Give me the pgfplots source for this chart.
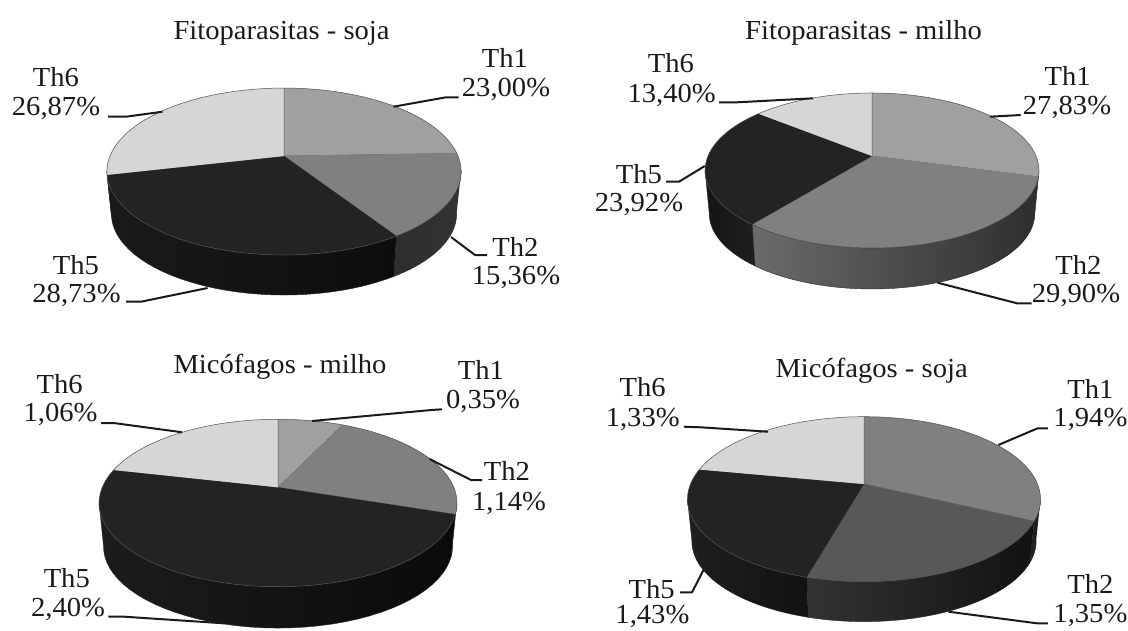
\documentclass[border=0pt]{standalone}
\usepackage{pgfplots}
\usepackage{fontspec}
\pgfplotsset{compat=1.18}
\setmainfont[FakeStretch=1.04]{Liberation Serif}

\definecolor{edge}{HTML}{505050}
\definecolor{inkc}{HTML}{1A1A1A}
\definecolor{gA}{HTML}{A0A0A0}
\definecolor{gB}{HTML}{808080}
\definecolor{gC}{HTML}{585858}
\definecolor{gE}{HTML}{232323}
\definecolor{gF}{HTML}{D6D6D6}

% Side shading of the slices: left colour to right colour
\tikzset{
  wsa1/.style={left color=black!85,right color=black!85},
  wsa2/.style={left color=black!82,right color=black!80},
  wsa5/.style={left color=black!90,right color=black!95},
  wsb1/.style={left color=black!75,right color=black!75},
  wsb2/.style={left color=black!58,right color=black!82},
  wsb5/.style={left color=black!92,right color=black!88},
  wsc1/.style={left color=black!85,right color=black!85},
  wsc2/.style={left color=black!92,right color=black!92},
  wsc5/.style={left color=black!89,right color=black!96},
  wsd1/.style={left color=black!85,right color=black!90},
  wsd2/.style={left color=black!80,right color=black!93},
  wsd5/.style={left color=black!88,right color=black!93},
}

% Angle along the rim, clockwise from the back of the disc
\newcommand\TopAngle[2]{(#1+(#2-#1)*min(\s,1))}
\newcommand\WallAngle[2]{(#1+(#2-#1)*(\s<=1?\s:(\s<1.1?1:2.1-\s)))}

% Top face of a slice: apex x, apex y, Sx, Sy, k, start, end, colour
\newcommand\TopFace[8]{%
  \addplot[fill=#8,draw=edge,line width=0.5pt,variable=\s,domain=0:1.05,samples=43]
    ({#1+(\s>1.01?0:1)*#3*sin(\TopAngle{#6}{#7})/(1+#5*cos(\TopAngle{#6}{#7}))},
     {#2-(\s>1.01?0:1)*#4*cos(\TopAngle{#6}{#7})/(1+#5*cos(\TopAngle{#6}{#7}))});
}
% Wall of a slice: apex x, apex y, Sx, Sy, k, start, end, depth, style
\newcommand\WallPlot[9]{%
  \addplot[#9,draw=black!85,line width=0.4pt,variable=\s,domain=0:2.1,samples=85]
    ({#1+(1-0.025*(\s>1.01?1:0))*#3*sin(\WallAngle{#6}{#7})/(1+#5*cos(\WallAngle{#6}{#7}))},
     {#2+(\s>1.01?1:0)*#8-(1-0.025*(\s>1.01?1:0))*#4*cos(\WallAngle{#6}{#7})/(1+#5*cos(\WallAngle{#6}{#7}))});
}
% Draws a wall only for the part of the rim facing the viewer
\newcommand\Wall[3]{%
  \pgfmathsetmacro\lo{max(#1,100.5)}%
  \pgfmathsetmacro\hi{min(#2,259.5)}%
  \pgfmathparse{\hi>\lo?1:0}%
  \ifdim\pgfmathresult pt>0.5pt
    \edef\next{\noexpand\WallPlot{\gx}{\gy}{\gsx}{\gsy}{\gk}{\lo}{\hi}{\gd}{#3}}\next
  \fi
}
\newcommand\Top[3]{%
  \edef\next{\noexpand\TopFace{\gx}{\gy}{\gsx}{\gsy}{\gk}{#1}{#2}{#3}}\next
}
\newcommand\PieGeom[6]{\def\gx{#1}\def\gy{#2}\def\gsx{#3}\def\gsy{#4}\def\gk{#5}\def\gd{#6}}
% Pie id, colours of Th1 and Th2, then the values of Th1, Th2, Th5, Th6
\newcommand\PieData[7]{%
  \pgfmathsetmacro\tot{#4+#5+#6+#7}%
  \pgfmathsetmacro\tA{#4/\tot*360}%
  \pgfmathsetmacro\tB{\tA+#5/\tot*360}%
  \pgfmathsetmacro\tC{\tB+#6/\tot*360}%
  \Wall{0}{\tA}{ws#11}%
  \Wall{\tA}{\tB}{ws#12}%
  \Wall{\tB}{\tC}{ws#15}%
  \Wall{\tC}{360}{ws#15}%
  \Top{0}{\tA}{#2}%
  \Top{\tA}{\tB}{#3}%
  \Top{\tB}{\tC}{gE}%
  \Top{\tC}{360}{gF}%
}
\newcommand\Lead[1]{\addplot[inkc,line width=2pt,line join=round] coordinates {#1};}
\newcommand\Tx[3]{\node[inkc,inner sep=0pt,font=\fontsize{27.5}{31}\selectfont] at (axis cs:#1,#2) {#3};}

\begin{document}
\begin{tikzpicture}
\begin{axis}[name=ax,scale only axis,width=1128pt,height=630pt,
  xmin=0,xmax=1128,ymin=0,ymax=630,y dir=reverse,hide axis]

% Fitoparasitas - soja
\PieGeom{284}{156}{174}{80.6}{0.186}{42.5}
\PieData{a}{gA}{gB}{23.00}{15.36}{28.73}{26.87}
\Lead{(393.5,106.7) (446,97.3) (458.5,97.3)}
\Lead{(108,116.7) (126,116.7) (162.5,111.7)}
\Lead{(451,237) (475,255) (487,255)}
\Lead{(126,301.7) (141,301.7) (207.6,288)}
\Tx{281.6}{33}{Fitoparasitas - soja}
\Tx{505}{58}{Th1}\Tx{506}{89}{23,00\%}
\Tx{56}{77}{Th6}\Tx{56}{108}{26,87\%}
\Tx{515.5}{247}{Th2}\Tx{516}{277}{15,36\%}
\Tx{76}{265}{Th5}\Tx{76.5}{295}{28,73\%}

% Fitoparasitas - milho
\PieGeom{872}{156}{164}{74.8}{0.187}{43.3}
\PieData{b}{gA}{gB}{27.83}{29.90}{23.92}{13.40}
\Lead{(990,116.7) (1020.7,115)}
\Lead{(719.2,102.3) (737.3,102.3) (813,98.3)}
\Lead{(666,181.7) (679,181.7) (704.8,166)}
\Lead{(937.6,282.7) (1017,303.3) (1031.5,303.3)}
\Tx{863.6}{33}{Fitoparasitas - milho}
\Tx{1067.6}{76}{Th1}\Tx{1067}{107}{27,83\%}
\Tx{671}{63.3}{Th6}\Tx{671.6}{95}{13,40\%}
\Tx{639}{174}{Th5}\Tx{639}{204}{23,92\%}
\Tx{1078.4}{265}{Th2}\Tx{1076}{295}{29,90\%}

% Micófagos - milho
\PieGeom{278}{487.3}{175.8}{80.8}{0.1876}{43.8}
\PieData{c}{gA}{gB}{0.35}{1.14}{2.40}{1.06}
\Lead{(312,421) (431.4,410) (442,409.3)}
\Lead{(101,423) (113.7,423) (182.3,432.3)}
\Lead{(429.6,459) (471,480) (482,480)}
\Lead{(108.3,616.7) (124.5,616.7) (223.8,623.3)}
\Tx{280}{366.5}{Micófagos - milho}
\Tx{481}{370}{Th1}\Tx{483}{401}{0,35\%}
\Tx{59.6}{384.3}{Th6}\Tx{60.6}{414}{1,06\%}
\Tx{507}{471}{Th2}\Tx{509}{503.3}{1,14\%}
\Tx{66.8}{578.3}{Th5}\Tx{68}{609}{2,40\%}

% Micófagos - soja
\PieGeom{864}{484}{173.5}{79.7}{0.184}{42.4}
\PieData{d}{gB}{gC}{1.94}{1.35}{1.43}{1.33}
\Lead{(998.3,445) (1037.6,428.3) (1047.8,428.3)}
\Lead{(683.9,426.7) (701,427.3) (768,431.7)}
\Lead{(680,592.3) (692,592.3) (704,569)}
\Lead{(948.5,611.7) (1037,623.3) (1047.8,623.3)}
\Tx{871.6}{371}{Micófagos - soja}
\Tx{1090.4}{389}{Th1}\Tx{1090.4}{419}{1,94\%}
\Tx{642.7}{387.3}{Th6}\Tx{642.7}{419}{1,33\%}
\Tx{651.7}{589}{Th5}\Tx{652.4}{616.5}{1,43\%}
\Tx{1090.4}{584.3}{Th2}\Tx{1090.4}{615}{1,35\%}
\end{axis}
\pgfresetboundingbox
\useasboundingbox (ax.south west) rectangle (ax.north east);
\end{tikzpicture}
\end{document}
